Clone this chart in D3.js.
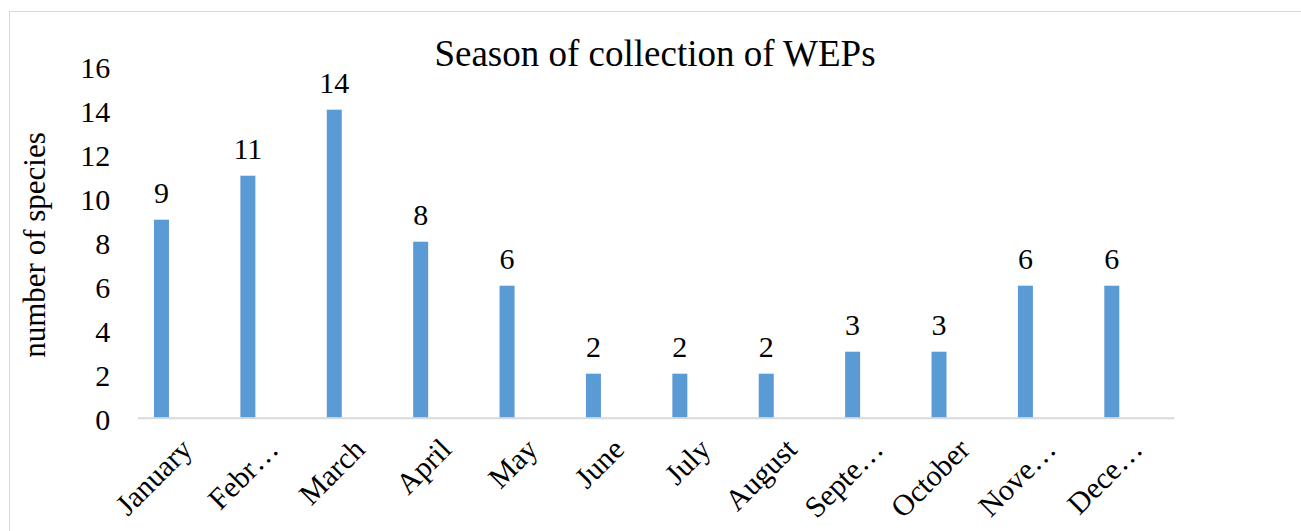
<!DOCTYPE html>
<style>
body { margin: 0; }
svg text { font-family: "Liberation Serif", Tinos, "Times New Roman", Times, serif !important; }
</style>
<svg width="1301" height="531"></svg>
<script src="https://d3js.org/d3.v7.min.js"></script>
<script>

var months = ["January", "Febr\u2026", "March", "April", "May", "June", "July", "August", "Septe\u2026", "October", "Nove\u2026", "Dece\u2026"];
var species = [9, 11, 14, 8, 6, 2, 2, 2, 3, 3, 6, 6];
var yTicks = [0, 2, 4, 6, 8, 10, 12, 14, 16];

var svg = d3.select("svg"),
    margin = {top: 65.7, right: 127, bottom: 113.3, left: 137.3},
    width = +svg.attr("width") - margin.left - margin.right,
    height = +svg.attr("height") - margin.top - margin.bottom,
    g = svg.append("g").attr("transform", "translate(" + margin.left + "," + margin.top + ")");

// chart area frame (runs off the right and bottom edges)
svg.append("rect")
    .attr("x", 9.5).attr("y", 11.5)
    .attr("width", 1400).attr("height", 600)
    .attr("fill", "none")
    .attr("stroke", "#d9d9d9");

var x = d3.scaleBand()
    .domain(months)
    .range([0, width]);

var y = d3.scaleLinear()
    .domain([0, 16])
    .range([height, 0]);

var barW = 15;
var barOff = x.bandwidth() * 0.28;

g.selectAll(".bar")
  .data(species)
  .enter().append("rect")
    .attr("class", "bar")
    .attr("x", function(d, i) { return x(months[i]) + barOff - barW / 2; })
    .attr("y", function(d) { return y(d); })
    .attr("width", barW)
    .attr("height", function(d) { return height - y(d); })
    .attr("fill", "#5b9bd5");

g.selectAll(".lbl")
  .data(species)
  .enter().append("text")
    .attr("class", "lbl")
    .attr("x", function(d, i) { return x(months[i]) + barOff; })
    .attr("y", function(d) { return y(d) - 17; })
    .attr("text-anchor", "middle")
    .attr("font-size", 30)
    .text(function(d) { return d; });

// x axis
var xAxis = g.append("g")
    .attr("transform", "translate(0," + height + ")")
    .call(d3.axisBottom(x).tickSize(0).tickPadding(0))
    .attr("font-family", null)
    .attr("font-size", 30);
xAxis.select(".domain").attr("stroke", "#d9d9d9").attr("stroke-width", 2);
xAxis.selectAll("text")
    .attr("fill", "#000")
    .attr("text-anchor", "end")
    .attr("dy", "0.35em")
    .attr("transform", "translate(6,26) rotate(-45)");

// y axis
var yAxis = g.append("g")
    .call(d3.axisLeft(y).tickValues(yTicks).tickSize(0).tickPadding(27))
    .attr("font-family", null)
    .attr("font-size", 30);
yAxis.select(".domain").remove();
yAxis.selectAll("text")
    .attr("fill", "#000")
    .attr("dy", "0.4em");

svg.append("text")
    .attr("transform", "translate(45,245) rotate(-90)")
    .attr("text-anchor", "middle")
    .attr("font-size", 31)
    .text("number of species");

svg.append("text")
    .attr("x", 655)
    .attr("y", 66)
    .attr("text-anchor", "middle")
    .attr("font-size", 37)
    .text("Season of collection of WEPs");

</script>
